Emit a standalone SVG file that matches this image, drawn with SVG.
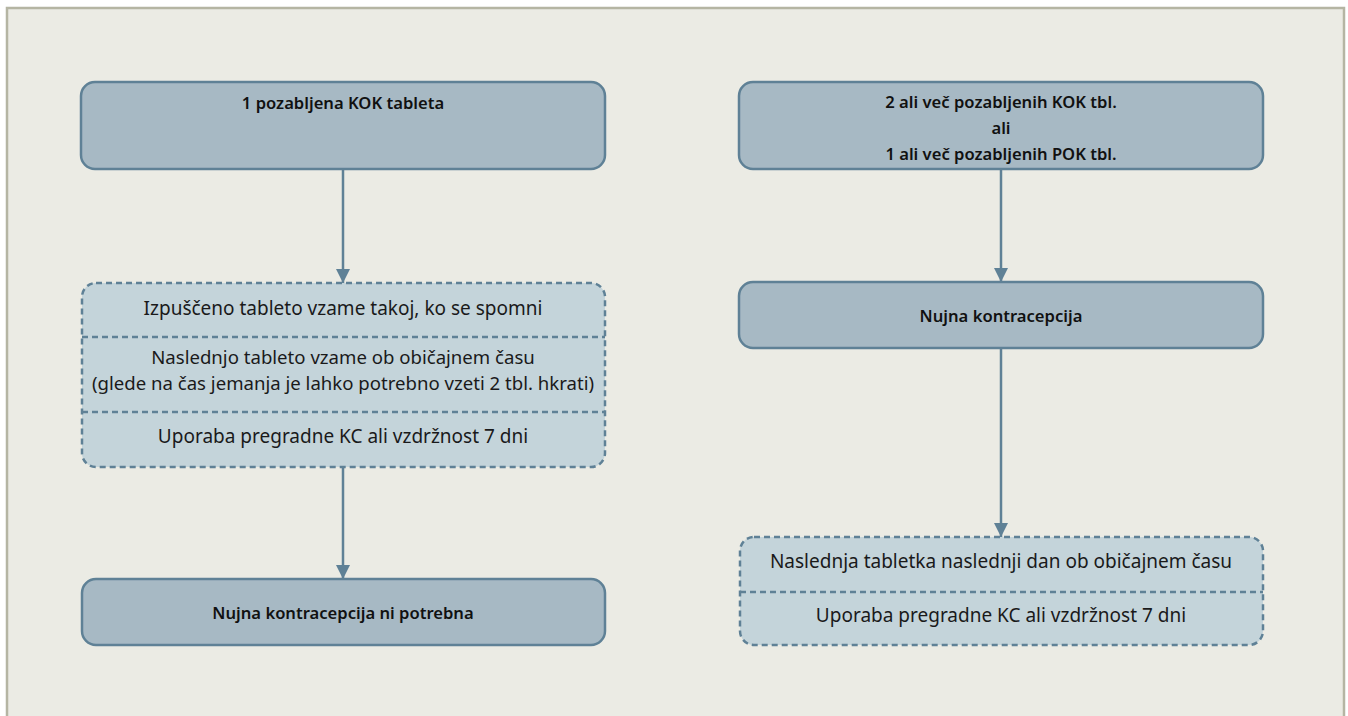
<svg xmlns="http://www.w3.org/2000/svg" width="1348" height="716" viewBox="0 0 1348 716">
<defs>
<style>
.solid{fill:#a7b9c4;stroke:#5f8196;stroke-width:2.5}
.dash{fill:#c4d4da;stroke:#5f8196;stroke-width:2.5;stroke-dasharray:6 4}
.sep{stroke:#5f8196;stroke-width:2.5;stroke-dasharray:6 4;fill:none}
.conn{stroke:#5f8196;stroke-width:2.5;fill:none}
text{font-family:"Noto Sans","Liberation Sans",sans-serif;font-size:19px;fill:#1a1a1a;text-anchor:middle}
.b{font-weight:600;font-size:16.6px;fill:#111}
.s{font-size:18.6px}
</style>
<marker id="ah" markerWidth="14" markerHeight="14" viewBox="0 0 14 14" refX="14" refY="7" orient="auto" markerUnits="userSpaceOnUse">
<path d="M0,0 L14,7 L0,14 z" fill="#5f8196"/>
</marker>
</defs>
<rect x="0" y="0" width="1348" height="716" fill="#ffffff"/>
<rect x="7" y="8" width="1337" height="720" fill="#ebebe4" stroke="#b5b5a3" stroke-width="2.5"/>
<g id="connectors">
<line class="conn" x1="343" y1="169" x2="343" y2="283" marker-end="url(#ah)"/>
<line class="conn" x1="343" y1="467" x2="343" y2="579" marker-end="url(#ah)"/>
<line class="conn" x1="1001" y1="169" x2="1001" y2="282" marker-end="url(#ah)"/>
<line class="conn" x1="1001" y1="348" x2="1001" y2="537" marker-end="url(#ah)"/>
</g>
<g id="n1">
<rect class="solid" x="81" y="82" width="524" height="87" rx="14"/>
<text x="343" y="109" class="b">1 pozabljena KOK tableta</text>
</g>
<g id="n2">
<rect class="dash" x="82" y="283" width="523" height="184" rx="14"/>
<line class="sep" x1="82" y1="337" x2="605" y2="337"/>
<line class="sep" x1="82" y1="412" x2="605" y2="412"/>
<text x="343" y="315">Izpuščeno tableto vzame takoj, ko se spomni</text>
<text x="343" y="364" class="s">Naslednjo tableto vzame ob običajnem času</text>
<text x="343" y="390" class="s">(glede na čas jemanja je lahko potrebno vzeti 2 tbl. hkrati)</text>
<text x="343" y="443">Uporaba pregradne KC ali vzdržnost  7 dni</text>
</g>
<g id="n3">
<rect class="solid" x="82" y="579" width="523" height="66" rx="14"/>
<text x="343" y="619" class="b">Nujna kontracepcija ni potrebna</text>
</g>
<g id="n4">
<rect class="solid" x="739" y="82" width="524" height="87" rx="14"/>
<text x="1001" y="108" class="b">2 ali več pozabljenih KOK tbl.</text>
<text x="1001" y="134" class="b">ali</text>
<text x="1001" y="160" class="b">1 ali več pozabljenih POK tbl.</text>
</g>
<g id="n5">
<rect class="solid" x="739" y="282" width="524" height="66" rx="14"/>
<text x="1001" y="322" class="b">Nujna kontracepcija</text>
</g>
<g id="n6">
<rect class="dash" x="740" y="537" width="523" height="108" rx="14"/>
<line class="sep" x1="740" y1="592" x2="1263" y2="592"/>
<text x="1001" y="568">Naslednja tabletka naslednji dan ob običajnem času</text>
<text x="1001" y="622">Uporaba pregradne KC ali vzdržnost  7 dni</text>
</g>
</svg>
